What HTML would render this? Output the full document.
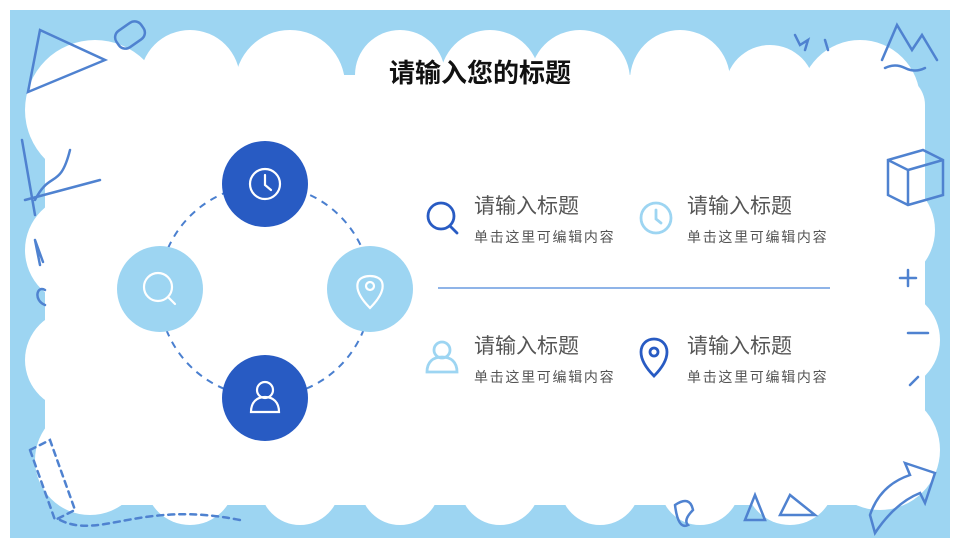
<!DOCTYPE html>
<html><head><meta charset="utf-8"><style>
html,body{margin:0;padding:0;width:960px;height:548px;overflow:hidden;background:#fff}
svg{display:block}
text{font-family:"Liberation Sans","Noto Sans CJK SC",sans-serif}
</style></head><body>
<svg width="960" height="548" viewBox="0 0 960 548" xmlns="http://www.w3.org/2000/svg">
<rect x="10" y="10" width="940" height="528" fill="#9dd5f2"/>
<g fill="#fff">
<rect x="45" y="75" width="880" height="430" rx="30"/>
<circle cx="95" cy="110" r="70"/><circle cx="190" cy="80" r="50"/><circle cx="290" cy="85" r="55"/>
<circle cx="400" cy="75" r="45"/><circle cx="490" cy="80" r="50"/><circle cx="580" cy="80" r="50"/>
<circle cx="680" cy="80" r="50"/><circle cx="770" cy="90" r="45"/><circle cx="860" cy="100" r="60"/>
<circle cx="80" cy="250" r="55"/><circle cx="75" cy="360" r="50"/><circle cx="90" cy="460" r="55"/>
<circle cx="880" cy="230" r="55"/><circle cx="890" cy="340" r="50"/><circle cx="880" cy="450" r="60"/>
<circle cx="190" cy="480" r="45"/><circle cx="300" cy="485" r="40"/><circle cx="400" cy="485" r="40"/>
<circle cx="500" cy="485" r="40"/><circle cx="600" cy="485" r="40"/><circle cx="700" cy="485" r="40"/><circle cx="790" cy="480" r="45"/>
</g>
<g fill="none" stroke="#4f82d0" stroke-width="2.5" stroke-linecap="round">
<path d="M40 30 L105 60 L28 92 Z"/><rect x="115" y="25" width="30" height="20" rx="8" transform="rotate(-35 130 35)"/>
<path d="M22 140 L35 215 M25 200 L100 180 M35 200 C50 170 60 190 70 150"/>
<path d="M35 240 l5 25 M35 240 l8 22 M45 290 c-8 -5 -12 10 0 15"/>
<path d="M30 450 L50 440 L75 510 L55 520 Z M60 520 C100 540 140 500 240 520" stroke-dasharray="6 5"/>
<path d="M795 35 l5 10 l8 -5 l-3 10 M825 40 l3 10"/>
<path d="M882 60 l15 -35 l15 25 l10 -15 l15 25 M885 68 q10 -5 20 0 t20 0"/>
<path d="M888 160 l35 -10 l20 10 v35 l-35 10 l-20 -10 Z M888 160 l20 10 v35 M908 170 l35 -10"/>
<path d="M900 278 h16 M908 270 v16 M908 333 h20 M910 385 l8 -8"/>
<path d="M675 505 q15 -10 18 5 q-10 10 -5 15 q-10 5 -13 -20 M745 520 l10 -25 l10 25 Z M780 515 l10 -20 l25 20 Z"/>
<path d="M870 515 q10 -30 40 -40 l-5 -12 l30 10 l-10 30 l-5 -10 q-25 10 -45 40 Z"/>
</g>
<text x="480" y="82" text-anchor="middle" font-size="26" font-weight="bold" fill="#111">请输入您的标题</text>
<circle cx="265" cy="291" r="106" fill="none" stroke="#4a7fcf" stroke-width="2" stroke-dasharray="7 6"/>
<circle cx="265" cy="184" r="43" fill="#285bc3"/>
<circle cx="265" cy="398" r="43" fill="#285bc3"/>
<circle cx="160" cy="289" r="43" fill="#9dd5f2"/>
<circle cx="370" cy="289" r="43" fill="#9dd5f2"/>
<g fill="none" stroke="#fff" stroke-width="2.2" stroke-linecap="round">
<circle cx="265" cy="184" r="15"/><path d="M265 175 v10 l6 5"/>
<circle cx="158" cy="287" r="14"/><path d="M168 297 l7 7"/>
<path d="M370 308 c-12 -12 -14 -20 -12 -26 c3 -8 21 -8 24 0 c2 6 0 14 -12 26 Z"/><circle cx="370" cy="286" r="4"/>
<circle cx="265" cy="390" r="8"/><path d="M251 412 c0 -10 6 -15 14 -15 c8 0 14 5 14 15 Z"/>
</g>
<g fill="none" stroke-width="2.8" stroke-linecap="round">
<circle cx="441" cy="216" r="13" stroke="#285bc3"/><path d="M450 226 l7 7" stroke="#285bc3"/>
<circle cx="656" cy="218" r="15" stroke="#9dd5f2"/><path d="M656 210 v9 l5 4" stroke="#9dd5f2"/>
<circle cx="442" cy="350" r="8" stroke="#9dd5f2"/><path d="M427 372 c0 -10 6 -15 15 -15 c9 0 15 5 15 15 Z" stroke="#9dd5f2"/>
<path d="M654 376 c-10 -10 -13 -18 -13 -24 c0 -8 6 -13 13 -13 c7 0 13 5 13 13 c0 6 -3 14 -13 24 Z" stroke="#285bc3"/><circle cx="654" cy="352" r="4" stroke="#285bc3"/>
</g>
<g fill="#555" font-size="21">
<text x="474" y="213">请输入标题</text>
<text x="687" y="213">请输入标题</text>
<text x="474" y="353">请输入标题</text>
<text x="687" y="353">请输入标题</text>
</g>
<g fill="#555" font-size="14" letter-spacing="1.7">
<text x="474" y="242">单击这里可编辑内容</text>
<text x="687" y="242">单击这里可编辑内容</text>
<text x="474" y="382">单击这里可编辑内容</text>
<text x="687" y="382">单击这里可编辑内容</text>
</g>
<line x1="438" y1="288" x2="830" y2="288" stroke="#6a9be0" stroke-width="1.5"/>
</svg>
</body></html>
